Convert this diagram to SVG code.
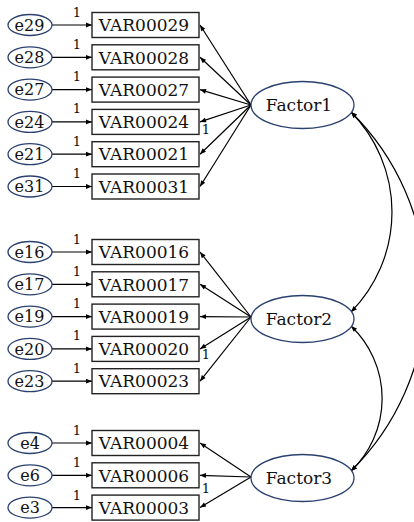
<svg xmlns="http://www.w3.org/2000/svg" width="414" height="522" viewBox="0 0 414 522">
<style>
.err{fill:#fff;stroke:#2a4070;stroke-width:1.3}
.fac{fill:#fff;stroke:#2a4070;stroke-width:1.3}
.box{fill:#fff;stroke:#222;stroke-width:1.4}
.t{font-family:"DejaVu Serif","Liberation Serif",serif;fill:#111;text-anchor:middle}
.v{font-size:17px}
.e{font-size:16px}
.f{font-size:17px}
.one{font-family:"DejaVu Serif","Liberation Serif",serif;font-size:13px;fill:#111;text-anchor:middle}
.c{fill:none;stroke:#000;stroke-width:1.2;marker-end:url(#ah)}
.cv{fill:none;stroke:#000;stroke-width:1.2;marker-start:url(#ah);marker-end:url(#ah)}
</style>
<defs>
<marker id="ah" viewBox="0 0 10 10" refX="10" refY="5" markerWidth="7" markerHeight="6" orient="auto-start-reverse" markerUnits="userSpaceOnUse"><path d="M0,1 L10,5 L0,9 z" fill="#000"/></marker>
</defs>

<g id="connectors">
<path class="c" d="M52,25 H92"/>
<path class="c" d="M52,57.3 H92"/>
<path class="c" d="M52,89.6 H92"/>
<path class="c" d="M52,121.9 H92"/>
<path class="c" d="M52,154.2 H92"/>
<path class="c" d="M52,186.5 H92"/>
<path class="c" d="M52,252 H92"/>
<path class="c" d="M52,284.3 H92"/>
<path class="c" d="M52,316.6 H92"/>
<path class="c" d="M52,348.9 H92"/>
<path class="c" d="M52,381.2 H92"/>
<path class="c" d="M52,443 H92"/>
<path class="c" d="M52,475.3 H92"/>
<path class="c" d="M52,507.6 H92"/>
<path class="c" d="M251,105 L200,25"/>
<path class="c" d="M251,105 L200,57.3"/>
<path class="c" d="M251,105 L200,89.6"/>
<path class="c" d="M251,105 L200,121.9"/>
<path class="c" d="M251,105 L200,154.2"/>
<path class="c" d="M251,105 L200,186.5"/>
<path class="c" d="M251,317 L200,252"/>
<path class="c" d="M251,317 L200,284.3"/>
<path class="c" d="M251,317 L200,316.6"/>
<path class="c" d="M251,317 L200,348.9"/>
<path class="c" d="M251,317 L200,381.2"/>
<path class="c" d="M251,477 L200,443"/>
<path class="c" d="M251,477 L200,475.3"/>
<path class="c" d="M251,477 L200,507.6"/>
<path class="cv" d="M351,112 A142.5 142.5 0 0 1 351,312"/>
<path class="cv" d="M351,326 A100 100 0 0 1 351,471"/>
<path class="cv" d="M351,112 A252 252 0 0 1 351,471"/>
<text class="one" x="77" y="16.5">1</text>
<text class="one" x="77" y="48.8">1</text>
<text class="one" x="77" y="81.1">1</text>
<text class="one" x="77" y="113.4">1</text>
<text class="one" x="77" y="145.7">1</text>
<text class="one" x="77" y="178">1</text>
<text class="one" x="77" y="243.5">1</text>
<text class="one" x="77" y="275.8">1</text>
<text class="one" x="77" y="308.1">1</text>
<text class="one" x="77" y="340.4">1</text>
<text class="one" x="77" y="372.7">1</text>
<text class="one" x="77" y="435">1</text>
<text class="one" x="77" y="467.3">1</text>
<text class="one" x="77" y="499.6">1</text>
<text class="one" x="206" y="133.5">1</text>
<text class="one" x="206" y="358.5">1</text>
<text class="one" x="206" y="492.5">1</text>
</g>

<g id="e29"><ellipse class="err" cx="30" cy="25" rx="22" ry="10.5"/><text class="t e" x="29.5" y="30.8">e29</text></g>
<g id="e28"><ellipse class="err" cx="30" cy="57.3" rx="22" ry="10.5"/><text class="t e" x="29.5" y="63.1">e28</text></g>
<g id="e27"><ellipse class="err" cx="30" cy="89.6" rx="22" ry="10.5"/><text class="t e" x="29.5" y="95.4">e27</text></g>
<g id="e24"><ellipse class="err" cx="30" cy="121.9" rx="22" ry="10.5"/><text class="t e" x="29.5" y="127.7">e24</text></g>
<g id="e21"><ellipse class="err" cx="30" cy="154.2" rx="22" ry="10.5"/><text class="t e" x="29.5" y="160">e21</text></g>
<g id="e31"><ellipse class="err" cx="30" cy="186.5" rx="22" ry="10.5"/><text class="t e" x="29.5" y="192.3">e31</text></g>
<g id="e16"><ellipse class="err" cx="30" cy="252" rx="22" ry="10.5"/><text class="t e" x="29.5" y="257.8">e16</text></g>
<g id="e17"><ellipse class="err" cx="30" cy="284.3" rx="22" ry="10.5"/><text class="t e" x="29.5" y="290.1">e17</text></g>
<g id="e19"><ellipse class="err" cx="30" cy="316.6" rx="22" ry="10.5"/><text class="t e" x="29.5" y="322.4">e19</text></g>
<g id="e20"><ellipse class="err" cx="30" cy="348.9" rx="22" ry="10.5"/><text class="t e" x="29.5" y="354.7">e20</text></g>
<g id="e23"><ellipse class="err" cx="30" cy="381.2" rx="22" ry="10.5"/><text class="t e" x="29.5" y="387">e23</text></g>
<g id="e4"><ellipse class="err" cx="30" cy="443" rx="22" ry="10.5"/><text class="t e" x="30" y="448.8">e4</text></g>
<g id="e6"><ellipse class="err" cx="30" cy="475.3" rx="22" ry="10.5"/><text class="t e" x="30" y="481.1">e6</text></g>
<g id="e3"><ellipse class="err" cx="30" cy="507.6" rx="22" ry="10.5"/><text class="t e" x="30" y="513.4">e3</text></g>

<g id="VAR00029"><rect class="box" x="92" y="12.5" width="107" height="25"/><text class="t v" x="144" y="31.2">VAR00029</text></g>
<g id="VAR00028"><rect class="box" x="92" y="44.8" width="107" height="25"/><text class="t v" x="144" y="63.5">VAR00028</text></g>
<g id="VAR00027"><rect class="box" x="92" y="77.1" width="107" height="25"/><text class="t v" x="144" y="95.8">VAR00027</text></g>
<g id="VAR00024"><rect class="box" x="92" y="109.4" width="107" height="25"/><text class="t v" x="144" y="128.1">VAR00024</text></g>
<g id="VAR00021"><rect class="box" x="92" y="141.7" width="107" height="25"/><text class="t v" x="144" y="160.4">VAR00021</text></g>
<g id="VAR00031"><rect class="box" x="92" y="174" width="107" height="25"/><text class="t v" x="144" y="192.7">VAR00031</text></g>
<g id="VAR00016"><rect class="box" x="92" y="239.5" width="107" height="25"/><text class="t v" x="144" y="258.2">VAR00016</text></g>
<g id="VAR00017"><rect class="box" x="92" y="271.8" width="107" height="25"/><text class="t v" x="144" y="290.5">VAR00017</text></g>
<g id="VAR00019"><rect class="box" x="92" y="304.1" width="107" height="25"/><text class="t v" x="144" y="322.8">VAR00019</text></g>
<g id="VAR00020"><rect class="box" x="92" y="336.4" width="107" height="25"/><text class="t v" x="144" y="355.1">VAR00020</text></g>
<g id="VAR00023"><rect class="box" x="92" y="368.7" width="107" height="25"/><text class="t v" x="144" y="387.4">VAR00023</text></g>
<g id="VAR00004"><rect class="box" x="92" y="430.5" width="107" height="25"/><text class="t v" x="144" y="449.2">VAR00004</text></g>
<g id="VAR00006"><rect class="box" x="92" y="462.8" width="107" height="25"/><text class="t v" x="144" y="481.5">VAR00006</text></g>
<g id="VAR00003"><rect class="box" x="92" y="495.1" width="107" height="25"/><text class="t v" x="144" y="513.8">VAR00003</text></g>

<g id="Factor1"><ellipse class="fac" cx="302.5" cy="105" rx="51.5" ry="23.5"/><text class="t f" x="299" y="111.2">Factor1</text></g>
<g id="Factor2"><ellipse class="fac" cx="302.5" cy="319" rx="51.5" ry="23.5"/><text class="t f" x="299" y="325.2">Factor2</text></g>
<g id="Factor3"><ellipse class="fac" cx="302.5" cy="478" rx="51.5" ry="23.5"/><text class="t f" x="299" y="484.2">Factor3</text></g>
</svg>
